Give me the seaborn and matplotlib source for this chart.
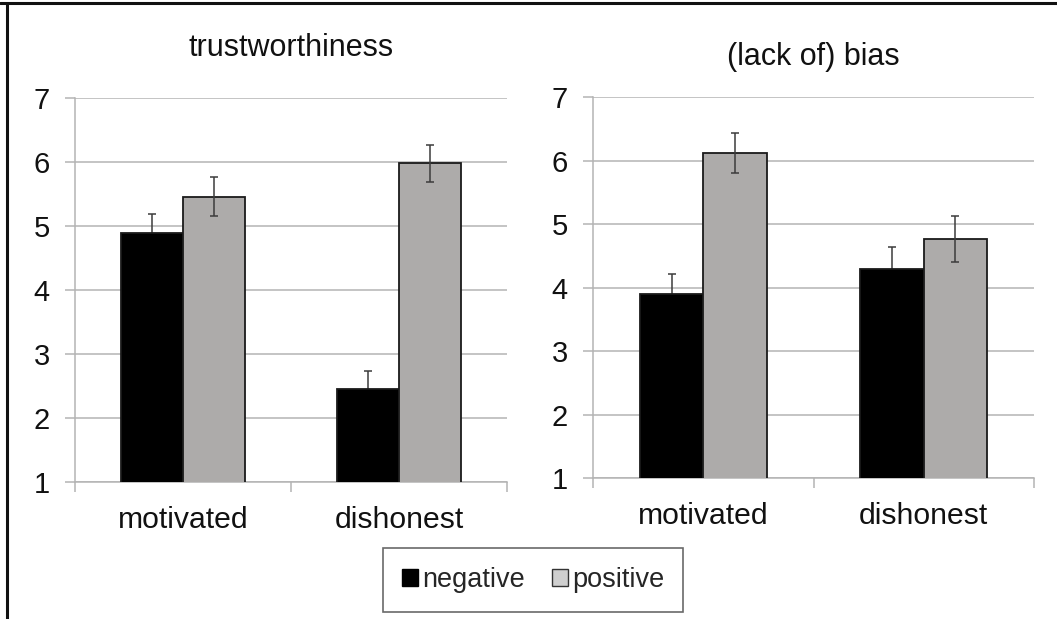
import matplotlib
matplotlib.use("Agg")
import matplotlib.pyplot as plt
import seaborn as sns
import pandas as pd
from matplotlib.patches import Patch
from matplotlib.lines import Line2D

# ---- data ----
categories = ["motivated", "dishonest"]
valences = ["negative", "positive"]
panel_titles = ["trustworthiness", "(lack of) bias"]

trust_negative = [4.89, 2.45]
trust_positive = [5.46, 5.98]
trust_neg_err = [0.30, 0.29]
trust_pos_err = [0.31, 0.29]

bias_negative = [3.90, 4.29]
bias_positive = [6.12, 4.77]
bias_neg_err = [0.31, 0.36]
bias_pos_err = [0.31, 0.36]

y_ticks = [1, 2, 3, 4, 5, 6, 7]

sns.set_theme(style="white")
plt.rcParams["font.family"] = ["Liberation Sans", "DejaVu Sans"]

BAR_COLORS = {"negative": "#000000", "positive": "#aeaba9"}
GRID = "#b4b4b4"

fig = plt.figure(figsize=(10.57, 6.19), dpi=100)

panels = [
    dict(title=panel_titles[0], neg=trust_negative, pos=trust_positive,
         nerr=trust_neg_err, perr=trust_pos_err,
         rect=[75/1057, 1-482/619, 432/1057, 384/619], pad=30),
    dict(title=panel_titles[1], neg=bias_negative, pos=bias_positive,
         nerr=bias_neg_err, perr=bias_pos_err,
         rect=[593/1057, 1-478.3/619, 441/1057, 381/619], pad=23),
]

for p in panels:
    ax = fig.add_axes(p["rect"])
    df = pd.DataFrame({
        "category": categories * 2,
        "valence": [valences[0]] * 2 + [valences[1]] * 2,
        "value": p["neg"] + p["pos"],
        "err": p["nerr"] + p["perr"],
    })
    sns.barplot(data=df, x="category", y="value", hue="valence",
                order=categories, hue_order=valences, palette=BAR_COLORS,
                width=0.574, gap=0, errorbar=None, edgecolor="#1a1a1a",
                linewidth=1.3, legend=False, ax=ax, zorder=3)
    # error bars at bar centers (negative ones sit behind the black bars)
    for container, hv in zip(ax.containers, valences):
        sub = df[df["valence"] == hv].set_index("category").loc[categories]
        xs = [bar.get_x() + bar.get_width() / 2 for bar in container]
        ax.errorbar(xs, sub["value"].values, yerr=sub["err"].values,
                    fmt="none", ecolor="#3c3c3c", elinewidth=1.1,
                    capsize=2.6, capthick=1.1,
                    zorder=2.5 if hv == "negative" else 4)
    ax.set_xlim(-0.5, 1.5)
    ax.set_ylim(1, 7)
    ax.set_yticks(y_ticks)
    ax.set_yticklabels([str(t) for t in y_ticks])
    ax.yaxis.grid(True, color=GRID, linewidth=1.1, zorder=0)
    ax.set_axisbelow(True)
    ax.set_xlabel("")
    ax.set_ylabel("")
    for s in ["top", "right"]:
        ax.spines[s].set_visible(False)
    for s in ["left", "bottom"]:
        ax.spines[s].set_color(GRID)
        ax.spines[s].set_linewidth(1.1)
    ax.tick_params(axis="y", length=7.2, width=1.1, color=GRID, pad=11,
                   labelsize=21, labelcolor="#111111", left=True)
    ax.set_xticks([0, 1])
    ax.set_xticklabels(categories)
    ax.set_xticks([-0.5, 0.5, 1.5], minor=True)
    ax.tick_params(axis="x", which="major", length=0, pad=17,
                   labelsize=21.7, labelcolor="#111111")
    ax.tick_params(axis="x", which="minor", length=7, width=1.1,
                   color=GRID, bottom=True)
    ax.set_title(p["title"], fontsize=22, color="#111111", pad=p["pad"])

handles = [Patch(facecolor="#000000", edgecolor="#000000", label=valences[0]),
           Patch(facecolor="#cfcfcf", edgecolor="#333333", label=valences[1])]
leg = fig.legend(handles=handles, loc="center", bbox_to_anchor=(533/1057, 1-580/619),
                 ncol=2, fontsize=19.5, frameon=True, fancybox=False,
                 handlelength=0.6, handleheight=0.6, handletextpad=0.15,
                 columnspacing=1.0, borderpad=0.7, borderaxespad=0)
leg.get_frame().set_edgecolor("#444444")
leg.get_frame().set_linewidth(1.2)

# outer frame lines (top and left)
fig.add_artist(Line2D([0, 1], [1-3/619, 1-3/619], transform=fig.transFigure,
                      color="#111111", linewidth=2.2))
fig.add_artist(Line2D([7/1057, 7/1057], [0, 1-3/619], transform=fig.transFigure,
                      color="#111111", linewidth=2.2))

fig.savefig("out.png", dpi=100, facecolor="white")
